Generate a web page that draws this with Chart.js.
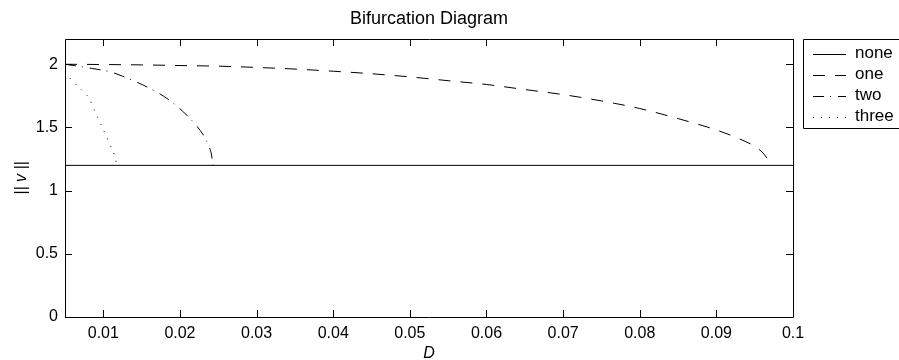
<!DOCTYPE html>
<html lang="en">
  <head>
    <meta charset="UTF-8" />
    <title>Bifurcation Diagram</title>
  </head>
  <style>
   body{
    margin: 0;
    background: #fff;
   }
   .mainBox{
    width: 899px;
    height: 360px;
   }
  </style>
  <body>
    <div class="mainBox">
      <canvas id="myChart"></canvas>
    </div>
  </body>
  <script src="https://cdn.jsdelivr.net/npm/chart.js@4/dist/chart.umd.min.js"></script>

  <script>
    var seriesNames = ['none', 'one', 'two', 'three'];

    var noneD = [0.005, 0.1];
    var noneV = [1.2, 1.2];

    var oneD = [0.005, 0.01, 0.015, 0.02, 0.025, 0.03, 0.035, 0.04, 0.045, 0.05, 0.055,
                0.06, 0.065, 0.07, 0.075, 0.08, 0.085, 0.09, 0.093, 0.095, 0.0962, 0.0972];
    var oneV = [2.0, 1.998, 1.995, 1.99, 1.985, 1.975, 1.962, 1.945, 1.925, 1.9, 1.87,
                1.84, 1.8, 1.76, 1.71, 1.65, 1.57, 1.48, 1.41, 1.35, 1.29, 1.2];

    var twoD = [0.005, 0.0072, 0.0085, 0.0109, 0.0125, 0.0152, 0.0183, 0.021, 0.0232, 0.0237, 0.0241, 0.0243];
    var twoV = [2.0, 1.98, 1.967, 1.94, 1.906, 1.835, 1.73, 1.59, 1.425, 1.36, 1.29, 1.2];

    var threeD = [0.005, 0.0058, 0.0065, 0.0073, 0.0081, 0.009, 0.0099, 0.0108, 0.0116, 0.0117];
    var threeV = [1.94, 1.88, 1.835, 1.787, 1.734, 1.615, 1.496, 1.373, 1.249, 1.22];

    var xTicks = [0.01, 0.02, 0.03, 0.04, 0.05, 0.06, 0.07, 0.08, 0.09, 0.1];
    var yTicks = [0, 0.5, 1, 1.5, 2];

    var dashes = [[], [12, 10], [11, 6, 1, 7], [1, 7]];
    var FONT = 'Liberation Sans, Arial, Helvetica, sans-serif';

    function pairs(xs, ys) {
      var out = [];
      for (var i = 0; i < xs.length; i++) out.push({x: xs[i], y: ys[i]});
      return out;
    }

    // box, inward ticks, title and legend drawn like the matlab figure
    var matlabFrame = {
      id: 'matlabFrame',
      afterDraw: function(chart) {
        var ctx = chart.ctx;
        var a = chart.chartArea;
        var xs = chart.scales.x, ys = chart.scales.y;
        var tl = 7;
        ctx.save();
        ctx.strokeStyle = '#000';
        ctx.lineWidth = 1;
        ctx.setLineDash([]);
        ctx.beginPath();
        ctx.rect(Math.round(a.left) + 0.5, Math.round(a.top) + 0.5,
                 Math.round(a.right - a.left), Math.round(a.bottom - a.top));
        xTicks.forEach(function(v) {
          var px = Math.round(xs.getPixelForValue(v)) + 0.5;
          ctx.moveTo(px, a.bottom); ctx.lineTo(px, a.bottom - tl);
          ctx.moveTo(px, a.top); ctx.lineTo(px, a.top + tl);
        });
        yTicks.forEach(function(v) {
          var py = Math.round(ys.getPixelForValue(v)) + 0.5;
          ctx.moveTo(a.left, py); ctx.lineTo(a.left + tl, py);
          ctx.moveTo(a.right, py); ctx.lineTo(a.right - tl, py);
        });
        ctx.stroke();

        // title
        ctx.fillStyle = '#000';
        ctx.font = '18px ' + FONT;
        ctx.textAlign = 'center';
        ctx.textBaseline = 'middle';
        ctx.fillText('Bifurcation Diagram', (a.left + a.right) / 2, 19);

        // legend
        var lx = 803, ly = 39;
        ctx.fillStyle = '#fff';
        ctx.fillRect(lx, ly, 110, 89);
        ctx.beginPath();
        ctx.rect(lx + 0.5, ly + 0.5, 110, 89);
        ctx.stroke();
        ctx.font = '17px ' + FONT;
        ctx.textAlign = 'left';
        chart.data.datasets.forEach(function(ds, i) {
          var ry = ly + 14.5 + i * 21;
          ctx.setLineDash(ds.borderDash);
          ctx.beginPath();
          ctx.moveTo(813, Math.round(ry) + 0.5);
          ctx.lineTo(846, Math.round(ry) + 0.5);
          ctx.stroke();
          ctx.fillStyle = '#000';
          ctx.fillText(ds.label, 855, ry);
        });
        ctx.restore();
      }
    };

    window.onload = function() {
      var xsList = [noneD, oneD, twoD, threeD];
      var ysList = [noneV, oneV, twoV, threeV];
      var datasets = [];
      seriesNames.forEach(function(name, i) {
        datasets.push({
          label: name,
          data: pairs(xsList[i], ysList[i]),
          borderColor: '#000',
          borderWidth: 1,
          borderDash: dashes[i],
          pointRadius: 0,
          fill: false,
          cubicInterpolationMode: 'monotone'
        });
      });

      var ctx = document.getElementById('myChart');
      new Chart(ctx, {
        type: 'line',
        data: {datasets: datasets},
        options: {
          responsive: true,
          maintainAspectRatio: false,
          animation: false,
          layout: {padding: {left: 0, right: 106, top: 39, bottom: 0}},
          plugins: {
            legend: {display: false},
            title: {display: false},
            tooltip: {enabled: false}
          },
          scales: {
            x: {
              type: 'linear',
              min: 0.005,
              max: 0.1,
              afterBuildTicks: function(s) { s.ticks = xTicks.map(function(v) { return {value: v}; }); },
              afterFit: function(s) { s.height = 43; },
              grid: {display: false, drawTicks: false},
              border: {display: false},
              ticks: {
                color: '#000',
                padding: 7,
                maxRotation: 0,
                font: {family: FONT, size: 16},
                callback: function(v) { return String(+v.toFixed(3)); }
              },
              title: {
                display: true,
                text: 'D',
                color: '#000',
                padding: {top: 0, bottom: -3},
                font: {family: FONT, size: 16, style: 'italic'}
              }
            },
            y: {
              type: 'linear',
              min: 0,
              max: 2.2,
              afterBuildTicks: function(s) { s.ticks = yTicks.map(function(v) { return {value: v}; }); },
              afterFit: function(s) { s.width = 65; },
              grid: {display: false, drawTicks: false},
              border: {display: false},
              ticks: {
                color: '#000',
                padding: 7,
                font: {family: FONT, size: 16},
                callback: function(v) { return String(v); }
              },
              title: {
                display: true,
                text: '|| v ||',
                color: '#000',
                padding: {top: 12, bottom: 0},
                font: {family: FONT, size: 16, style: 'italic'}
              }
            }
          }
        },
        plugins: [matlabFrame]
      });
    };
  </script>
</html>
